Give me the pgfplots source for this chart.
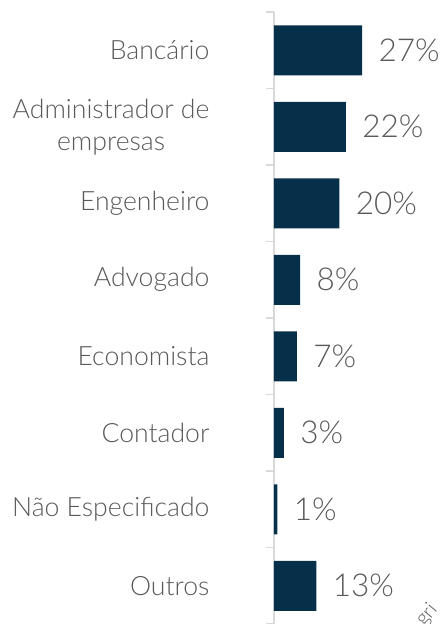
\documentclass[border=0pt]{standalone}
\usepackage{fontspec}
\setmainfont{Lato Light}
\usepackage{pgfplots}
\pgfplotsset{compat=1.18}
\definecolor{barblue}{HTML}{06304A}
\definecolor{txtgray}{HTML}{595959}
\definecolor{axisgray}{HTML}{D9D9D9}

\begin{document}
\begin{tikzpicture}
\begin{axis}[
    at={(0,0)}, anchor=south west,
    scale only axis, width=170pt, height=612pt,
    xbar, bar width=50pt,
    xmin=0, xmax=52.1,
    ymin=-0.5, ymax=7.5, y dir=reverse,
    axis x line=none, axis y line=left,
    axis line style={draw=axisgray, line width=1.5pt, -},
    ytick={0,...,7},
    yticklabels={Bancário, {Administrador de\\empresas}, Engenheiro, Advogado,
        Economista, Contador, Não Especificado, Outros},
    major tick length=0pt,
    minor ytick={-0.5,0.5,...,7.5},
    minor tick length=8pt, tick align=outside,
    minor tick style={draw=axisgray, line width=1.5pt},
    y tick label style={font=\fontsize{26.6}{32}\selectfont, text=txtgray,
        align=center, xshift=-61pt},
    /pgf/number format/assume math mode=true,
    point meta=x,
    nodes near coords={\pgfmathprintnumber{\pgfplotspointmeta}\%},
    every node near coord/.append style={font=\fontsize{31.5}{31.5}\selectfont,
        text=txtgray, anchor=west, xshift=13pt},
]
\addplot[draw=none, fill=barblue] coordinates {
    (27,0) (22,1) (20,2) (8,3) (7,4) (3,5) (1,6) (13,7)
};
\end{axis}
% clipped label from the neighbouring chart
\node[rotate=50, anchor=base west, inner sep=0pt,
    font=\fontsize{20}{20}\selectfont, text=txtgray] at (150pt,-3pt) {gri};
\pgfresetboundingbox
\useasboundingbox (-274pt,0pt) rectangle (170pt,624pt);
\end{tikzpicture}
\end{document}
